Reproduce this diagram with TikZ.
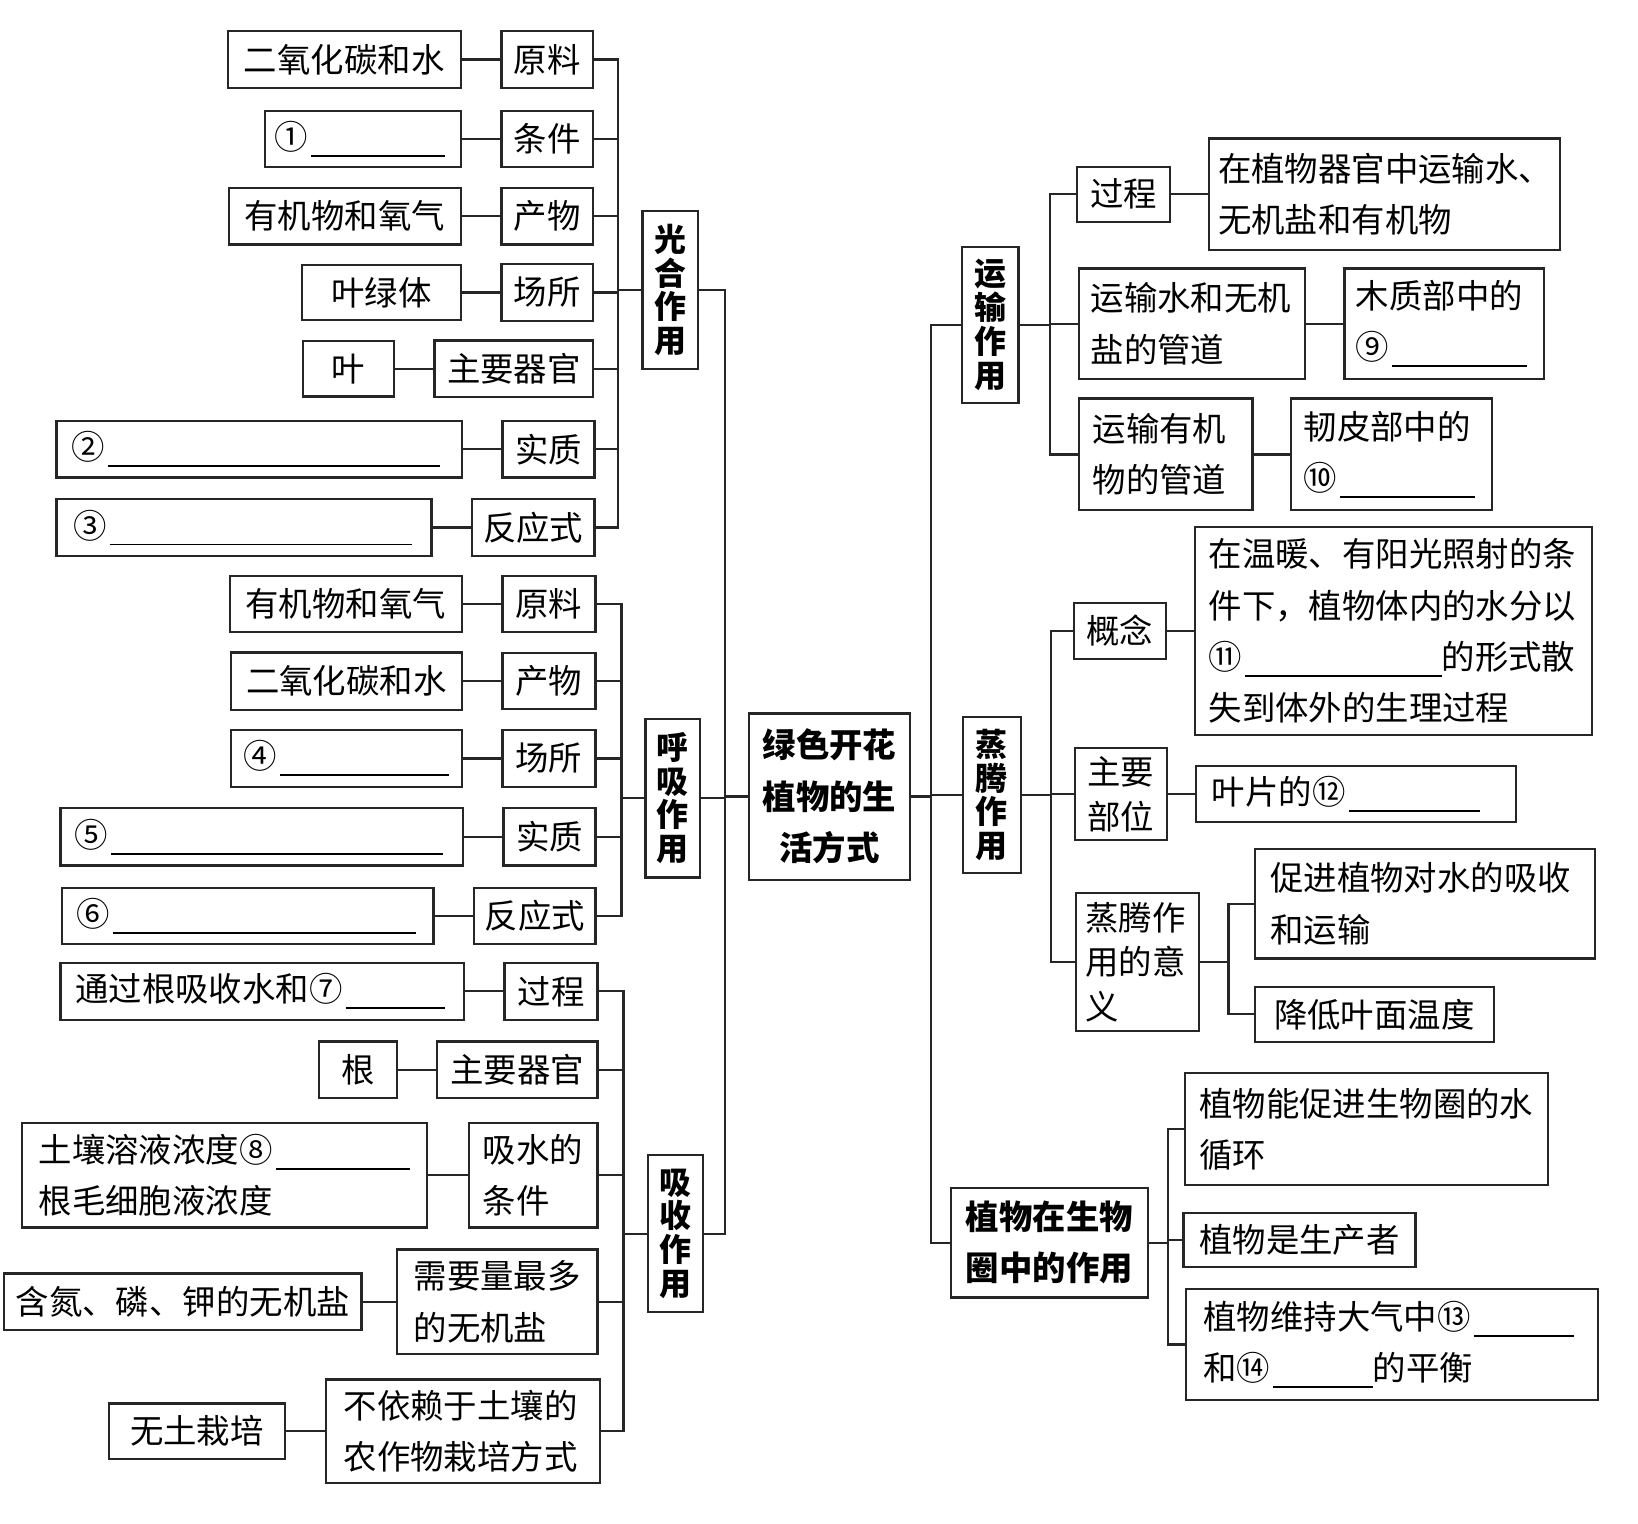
\documentclass[tikz,border=0pt]{standalone}
\usepackage{fontspec}
\setmainfont{Noto Sans CJK SC}
\newlength\pxu
\setlength\pxu{0.1mm}
\newcommand\blank[1]{\hspace{0.3mm}\rule[-2pt]{#1\pxu}{0.5pt}}
\tikzset{
  box/.style={draw=black!85, line width=0.6pt, inner sep=0pt, font=\fontsize{9.1pt}{14pt}\selectfont},
  sz/.style 2 args={minimum width=#1\pxu, minimum height=#2\pxu},
  tw/.style={text width=#1\pxu, align=left},
  mid/.style={box, align=center},
  tight/.style={font=\fontsize{9.1pt}{12.2pt}\selectfont},
  head/.style={box, align=center, font=\fontsize{9.1pt}{14pt}\selectfont\bfseries},
  vhead/.style={box, align=center, font=\fontsize{8.7pt}{9.2pt}\selectfont\bfseries},
  link/.style={draw=black!85, line width=0.6pt},
}
\begin{document}
\begin{tikzpicture}[x=0.1mm, y=-0.1mm]
    \useasboundingbox (0,0) rectangle (1568,1458);

    \node[head, sz={154}{159}] (root) at (794,762.5) {绿色开花\\植物的生\\活方式};

    % 光合作用
    \node[vhead, sz={53}{151}] (gh) at (641.5,277.5) {光\\合\\作\\用};
    \node[mid, sz={88}{54}] (ghm1) at (524,57) {原料};
    \node[mid, sz={88}{54}] (ghm2) at (524,133) {条件};
    \node[mid, sz={88}{54}] (ghm3) at (524,207) {产物};
    \node[mid, sz={88}{54}] (ghm4) at (524,280) {场所};
    \node[mid, sz={152}{54}] (ghm5) at (492,353) {主要器官};
    \node[mid, sz={88}{54}] (ghm6) at (525,430) {实质};
    \node[mid, sz={117}{54}] (ghm7) at (510.5,505) {反应式};
    \node[mid, sz={223}{54}] (ghl1) at (329.5,57) {二氧化碳和水};
    \node[box, sz={187}{54}, tw=169] (ghl2) at (347.5,133) {①\blank{128}};
    \node[mid, sz={222}{54}] (ghl3) at (330,207) {有机物和氧气};
    \node[mid, sz={152}{53}] (ghl4) at (365,280) {叶绿体};
    \node[mid, sz={87}{53}] (ghl5) at (333.5,353) {叶};
    \node[box, sz={388}{54}, tw=360] (ghl6) at (248,430) {②\blank{318}};
    \node[box, sz={359}{55}, tw=327] (ghl7) at (233.5,505) {③\blank{289}};

    % 呼吸作用
    \node[vhead, sz={52}{152}] (hx) at (644,764) {呼\\吸\\作\\用};
    \node[mid, sz={89}{54}] (hxm1) at (525.5,578) {原料};
    \node[mid, sz={89}{54}] (hxm2) at (525.5,652) {产物};
    \node[mid, sz={89}{54}] (hxm3) at (525.5,726) {场所};
    \node[mid, sz={88}{55}] (hxm4) at (526,801) {实质};
    \node[mid, sz={116}{54}] (hxm5) at (512,877) {反应式};
    \node[mid, sz={222}{54}] (hxl1) at (331,578) {有机物和氧气};
    \node[mid, sz={221}{55}] (hxl2) at (331.5,652) {二氧化碳和水};
    \node[box, sz={221}{54}, tw=197] (hxl3) at (331.5,726) {④\blank{162}};
    \node[box, sz={385}{55}, tw=359] (hxl4) at (250.5,801) {⑤\blank{318}};
    \node[box, sz={356}{54}, tw=328] (hxl5) at (237,877) {⑥\blank{290}};

    % 吸收作用
    \node[vhead, sz={53}{150}] (xs) at (646.5,1181) {吸\\收\\作\\用};
    \node[mid, sz={89}{55}] (xsm1) at (527.5,949) {过程};
    \node[mid, sz={154}{54}] (xsm2) at (495,1024) {主要器官};
    \node[box, sz={123}{100}, tw=97] (xsm3) at (510.5,1125) {吸水的\\条件};
    \node[box, sz={192}{100}, tw=160] (xsm4) at (476,1246) {需要量最多\\的无机盐};
    \node[box, sz={262}{99}, tw=228] (xsm5) at (443,1370) {不依赖于土壤的\\农作物栽培方式};
    \node[box, sz={386}{55}, tw=358] (xsl1) at (251,949) {通过根吸收水和⑦\blank{95}};
    \node[mid, sz={75}{54}] (xsl2) at (342.5,1024) {根};
    \node[box, sz={388}{100}, tw=356] (xsl3) at (215,1125) {土壤溶液浓度⑧\blank{129}\\根毛细胞液浓度};
    \node[mid, sz={342}{54}] (xsl4) at (175,1246) {含氮、磷、钾的无机盐};
    \node[mid, sz={169}{53}] (xsl5) at (188.5,1370) {无土栽培};

    % 运输作用
    \node[vhead, sz={54}{149}] (ys) at (948,311) {运\\输\\作\\用};
    \node[mid, sz={89}{53}] (ysm1) at (1075.5,186) {过程};
    \node[box, sz={216}{106}, tw=194] (ysm2) at (1141,310) {运输水和无机\\盐的管道};
    \node[box, sz={166}{107}, tw=140] (ysm3) at (1116,435) {运输有机\\物的管道};
    \node[box, sz={336}{107}, tw=318] (ysl1) at (1325,186) {在植物器官中运输水、\\无机盐和有机物};
    \node[box, sz={191}{106}, tw=169] (ysl2) at (1382.5,310) {木质部中的\\⑨\blank{129}};
    \node[box, sz={192}{107}, tw=168] (ysl3) at (1332,435) {韧皮部中的\\⑩\blank{129}};

    % 蒸腾作用
    \node[vhead, sz={55}{150}] (zt) at (949.5,761) {蒸\\腾\\作\\用};
    \node[mid, sz={88}{54}] (ztm1) at (1072,604) {概念};
    \node[mid, tight, sz={88}{88}] (ztm2) at (1073,760) {主要\\部位};
    \node[box, tight, sz={118}{132}, tw=100] (ztm3) at (1089,921) {蒸腾作\\用的意\\义};
    \node[box, sz={380}{199}, tw=354] (ztl1) at (1334,604) {在温暖、有阳光照射的条\\件下，植物体内的水分以\\⑪\blank{188}的形式散\\失到体外的生理过程};
    \node[box, sz={306}{54}, tw=276] (ztl2) at (1298,760) {叶片的⑫\blank{126}};
    \node[box, sz={326}{105}, tw=296] (ztl31) at (1364,865) {促进植物对水的吸收\\和运输};
    \node[mid, sz={229}{53}] (ztl32) at (1315.5,971) {降低叶面温度};

    % 植物在生物圈中的作用
    \node[head, sz={189}{105}] (sw) at (1004.5,1189.5) {植物在生物\\圈中的作用};
    \node[box, sz={348}{107}, tw=320] (swl1) at (1308,1081) {植物能促进生物圈的水\\循环};
    \node[mid, sz={222}{52}] (swl2) at (1244,1187) {植物是生产者};
    \node[box, sz={395}{106}, tw=361] (swl3) at (1332.5,1287) {植物维持大气中⑬\blank{96}\\和⑭\blank{95}的平衡};

    % left side links
    \draw[link] (root.west) -- ++(-22,0) coordinate (rtl);
    \foreach \n in {gh,hx,xs} \draw[link] (\n.east) -| (rtl);
    \draw[link] (gh.west) -- ++(-22,0) coordinate (ghb);
    \foreach \i in {1,...,7} {
        \draw[link] (ghl\i) -- (ghm\i);
        \draw[link] (ghm\i.east) -| (ghb);
    }
    \draw[link] (hx.west) -- ++(-22,0) coordinate (hxb);
    \draw[link] (xs.west) -- ++(-22,0) coordinate (xsb);
    \foreach \i in {1,...,5} {
        \draw[link] (hxl\i) -- (hxm\i);
        \draw[link] (hxm\i.east) -| (hxb);
        \draw[link] (xsl\i) -- (xsm\i);
        \draw[link] (xsm\i.east) -| (xsb);
    }

    % right side links
    \draw[link] (root.east) -- ++(19,0) coordinate (rtr);
    \foreach \n in {ys,zt,sw} \draw[link] (rtr) |- (\n.west);
    \draw[link] (ys.east) -- ++(29,0) coordinate (ysb);
    \foreach \i in {1,2,3} {
        \draw[link] (ysb) |- (ysm\i.west);
        \draw[link] (ysm\i) -- (ysl\i);
    }
    \draw[link] (zt.east) -- ++(28,0) coordinate (ztb);
    \foreach \i in {1,2,3} \draw[link] (ztb) |- (ztm\i.west);
    \draw[link] (ztm1) -- (ztl1);
    \draw[link] (ztm2) -- (ztl2);
    \draw[link] (ztm3.east) -- ++(27,0) coordinate (ztc);
    \draw[link] (ztc) |- (ztl31.west);
    \draw[link] (ztc) |- (ztl32.west);
    \draw[link] (sw.east) -- ++(18,0) coordinate (swb);
    \foreach \i in {1,2,3} \draw[link] (swb) |- (swl\i.west);
\end{tikzpicture}
\end{document}
